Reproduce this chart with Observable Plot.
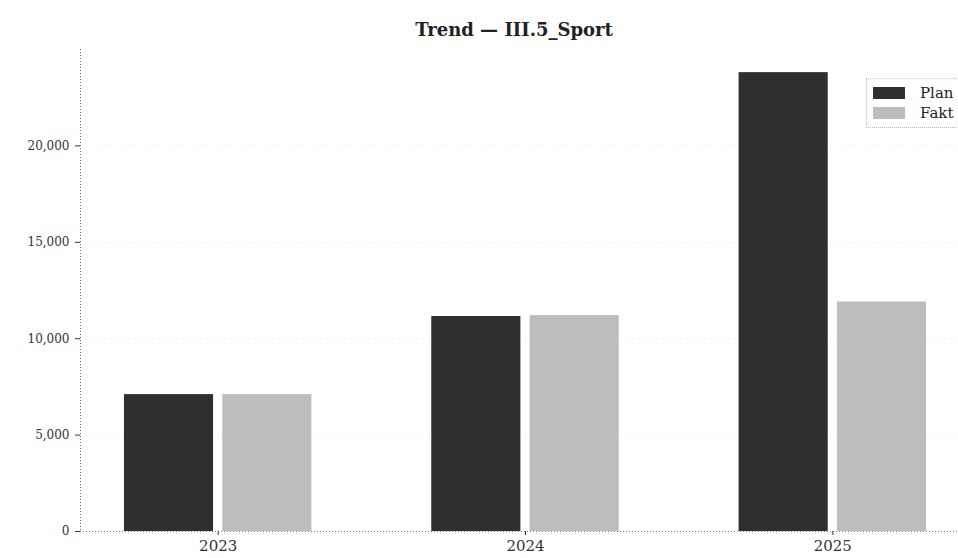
<!DOCTYPE html>
<html>
<head>
<meta charset="utf-8">
<script src="https://cdn.jsdelivr.net/npm/d3@7"></script>
<script src="https://cdn.jsdelivr.net/npm/@observablehq/plot@0.6"></script>
<style>
  html, body { margin: 0; padding: 0; background: #fff; }
  #wrap { position: relative; width: 958px; height: 558px; overflow: hidden; font-family: "DejaVu Serif", serif; }
  #title { position: absolute; left: 514px; top: 19px; transform: translateX(-50%); font-size: 18px; font-weight: bold; color: #222; white-space: nowrap; line-height: 22px; }
  #chart { position: absolute; left: 0; top: 40px; }
  #legend { position: absolute; left: 866px; top: 78px; width: 100px; padding: 4px 0 4px 6px; border-left: 1px dotted #bbb; border-top: 1px dotted #ccc; border-bottom: 1px dotted #bbb; font-size: 15px; color: #222; }
  .item { display: flex; align-items: center; height: 20px; }
  .sw { width: 32px; height: 12px; margin-right: 15px; }
</style>
</head>
<body>
<div id="wrap">
  <div id="title">Trend — III.5_Sport</div>
  <div id="chart"></div>
  <div id="legend"></div>
</div>
<script>
const years = ["2023", "2024", "2025"];
const series = ["Plan", "Fakt"];
const plan = [7100, 11150, 23800];
const fakt = [7100, 11200, 11900];
const colors = ["#2f2f2f", "#bdbdbd"];
const yTicks = [0, 5000, 10000, 15000, 20000];

const offsets = {Plan: -0.16, Fakt: 0.16};
const barW = 0.29;

const data = years.flatMap((y, i) => [
  {year: y, i, series: "Plan", value: plan[i]},
  {year: y, i, series: "Fakt", value: fakt[i]}
]);

const xMin = -0.448, xMax = 2.448;

const chart = Plot.plot({
  width: 958,
  height: 518,
  marginTop: 9,
  marginBottom: 27,
  marginLeft: 80,
  marginRight: 0,
  style: {fontFamily: "DejaVu Serif, serif", fontSize: "12px", color: "#333", background: "#fff", overflow: "hidden"},
  x: {domain: [xMin, xMax], range: [80, 970], axis: null},
  y: {domain: [0, 25000], axis: null},
  color: {domain: series, range: colors},
  marks: [
    Plot.ruleY(yTicks.slice(1), {stroke: "#ccc", strokeDasharray: "1,5", strokeOpacity: 0.6}),
    Plot.rectY(data, {
      x1: d => d.i + offsets[d.series] - barW / 2,
      x2: d => d.i + offsets[d.series] + barW / 2,
      y1: 0,
      y2: "value",
      fill: "series"
    }),
    Plot.ruleX([xMin], {stroke: "#666", strokeDasharray: "1,2", strokeWidth: 1}),
    Plot.ruleY([0], {stroke: "#777", strokeDasharray: "1,2", strokeWidth: 1}),
    Plot.axisY({ticks: yTicks, tickFormat: d3.format(","), tickSize: 5, tickPadding: 6, fontSize: 12, stroke: "#333", label: null}),
    Plot.axisX({ticks: [0, 1, 2], tickFormat: i => years[i], tickSize: 4, tickPadding: 5, fontSize: 15, stroke: "#333", label: null})
  ]
});
document.getElementById("chart").appendChild(chart);

const legend = document.getElementById("legend");
series.forEach((s, k) => {
  const item = document.createElement("div");
  item.className = "item";
  const sw = document.createElement("div");
  sw.className = "sw";
  sw.style.background = colors[k];
  const lab = document.createElement("span");
  lab.textContent = s;
  item.appendChild(sw);
  item.appendChild(lab);
  legend.appendChild(item);
});
</script>
</body>
</html>
